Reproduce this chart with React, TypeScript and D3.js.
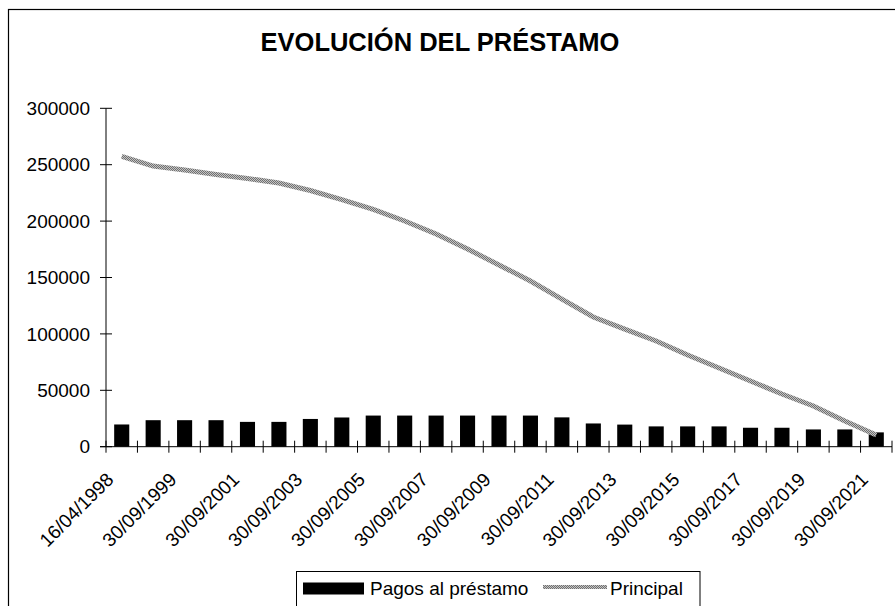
import React, { useEffect, useRef } from 'react';
import * as d3 from 'd3';

// fechas del eje X (una etiqueta cada dos)
const categories = [
  '16/04/1998', '30/09/1998', '30/09/1999', '30/09/2000', '30/09/2001',
  '30/09/2002', '30/09/2003', '30/09/2004', '30/09/2005', '30/09/2006',
  '30/09/2007', '30/09/2008', '30/09/2009', '30/09/2010', '30/09/2011',
  '30/09/2012', '30/09/2013', '30/09/2014', '30/09/2015', '30/09/2016',
  '30/09/2017', '30/09/2018', '30/09/2019', '30/09/2020', '30/09/2021',
];

const pagos = [
  19700, 23500, 23500, 23500, 22000, 22000, 24600, 25900, 27600, 27600,
  27600, 27600, 27600, 27600, 26000, 20600, 19600, 18000, 18000, 18000,
  16800, 16800, 15300, 15300, 12700,
];

const principal = [
  257300, 248800, 245300, 241300, 237800, 233800, 227100, 219100, 210300, 200100,
  188600, 175300, 161100, 146900, 130900, 115000, 104300, 93700, 81300, 69800,
  58200, 46700, 36100, 22800, 10400,
];

const yTicks = [0, 50000, 100000, 150000, 200000, 250000, 300000];

const seriesNames = ['Pagos al préstamo', 'Principal'];

const W = 895;
const H = 606;
const FONT = '"Liberation Sans", Arial, Helvetica, sans-serif';

export default function App() {
  const ref = useRef<SVGSVGElement>(null);

  useEffect(() => {
    const svg = d3.select(ref.current);
    svg.selectAll('*').remove();

    const left = 106, right = 892, top = 108.3, bottom = 446.7;

    const x = d3.scaleBand().domain(categories).range([left, right]).padding(0);
    const y = d3.scaleLinear().domain([0, 300000]).range([bottom, top]);
    const bw = x.bandwidth();

    // textura gris de la linea
    const defs = svg.append('defs');
    const pat = defs.append('pattern')
      .attr('id', 'tex')
      .attr('width', 2).attr('height', 2)
      .attr('patternUnits', 'userSpaceOnUse');
    pat.append('rect').attr('width', 2).attr('height', 2).attr('fill', '#c4c4c4');
    pat.append('rect').attr('width', 1).attr('height', 1).attr('fill', '#707070');
    pat.append('rect').attr('x', 1).attr('y', 1).attr('width', 1).attr('height', 1).attr('fill', '#707070');

    svg.append('rect')
      .attr('x', 0).attr('y', 0).attr('width', W).attr('height', H)
      .attr('fill', 'white');

    // marco
    svg.append('rect')
      .attr('x', 8.5).attr('y', 9.5)
      .attr('width', 1000).attr('height', 1000)
      .attr('fill', 'none').attr('stroke', 'black').attr('stroke-width', 1.2);

    svg.append('text')
      .attr('x', 440).attr('y', 51)
      .attr('text-anchor', 'middle')
      .attr('font-family', FONT).attr('font-weight', 'bold').attr('font-size', 25.5)
      .text('EVOLUCIÓN DEL PRÉSTAMO');

    // barras
    svg.selectAll('.bar')
      .data(pagos)
      .enter().append('rect')
      .attr('class', 'bar')
      .attr('x', (d, i) => x(categories[i])! + bw * 0.26)
      .attr('width', bw * 0.48)
      .attr('y', d => y(d))
      .attr('height', d => y(0) - y(d))
      .attr('fill', 'black');

    // eje Y
    const yAxis = svg.append('g').attr('stroke', 'black').attr('stroke-width', 1);
    yAxis.append('line')
      .attr('x1', left).attr('x2', left).attr('y1', top).attr('y2', bottom);
    yAxis.selectAll('.yt')
      .data(yTicks)
      .enter().append('line')
      .attr('x1', left - 6).attr('x2', left + 6)
      .attr('y1', d => y(d)).attr('y2', d => y(d));
    svg.selectAll('.ylab')
      .data(yTicks)
      .enter().append('text')
      .attr('x', left - 16)
      .attr('y', d => y(d))
      .attr('dy', '0.35em')
      .attr('text-anchor', 'end')
      .attr('font-family', FONT).attr('font-size', 19)
      .text(d => String(d));

    // eje X
    const xAxis = svg.append('g').attr('stroke', 'black').attr('stroke-width', 1);
    xAxis.append('line')
      .attr('x1', left - 6).attr('x2', right).attr('y1', bottom).attr('y2', bottom);
    xAxis.selectAll('.xt')
      .data(categories.concat(['end']))
      .enter().append('line')
      .attr('x1', (d, i) => left + i * bw).attr('x2', (d, i) => left + i * bw)
      .attr('y1', bottom - 6).attr('y2', bottom + 6);
    svg.selectAll('.xlab')
      .data(categories.filter((d, i) => i % 2 === 0))
      .enter().append('text')
      .attr('transform', d => 'translate(' + (x(d)! + bw / 2 - 7) + ',' + (bottom + 34) + ') rotate(-45)')
      .attr('text-anchor', 'end')
      .attr('font-family', FONT).attr('font-size', 19)
      .text(d => d);

    // linea del principal
    const line = d3.line<number>()
      .x((d, i) => x(categories[i])! + bw / 2)
      .y(d => y(d));
    svg.append('path')
      .datum(principal)
      .attr('d', line)
      .attr('fill', 'none')
      .attr('stroke', 'url(#tex)')
      .attr('stroke-width', 5);

    // leyenda
    const lg = svg.append('g');
    lg.append('rect')
      .attr('x', 296.5).attr('y', 571.5).attr('width', 403.5).attr('height', 60)
      .attr('fill', 'white').attr('stroke', 'black').attr('stroke-width', 1);
    lg.append('rect')
      .attr('x', 303).attr('y', 582.5).attr('width', 61).attr('height', 12)
      .attr('fill', 'black');
    lg.append('text')
      .attr('x', 370).attr('y', 588.5).attr('dy', '0.35em')
      .attr('font-family', FONT).attr('font-size', 19)
      .text(seriesNames[0]);
    lg.append('line')
      .attr('x1', 543).attr('x2', 607).attr('y1', 587).attr('y2', 587)
      .attr('stroke', 'url(#tex)').attr('stroke-width', 4);
    lg.append('text')
      .attr('x', 610).attr('y', 588.5).attr('dy', '0.35em')
      .attr('font-family', FONT).attr('font-size', 19)
      .text(seriesNames[1]);
  }, []);

  return (
    <svg ref={ref} width={W} height={H}
      style={{ position: 'absolute', left: 0, top: 0, display: 'block' }} />
  );
}
